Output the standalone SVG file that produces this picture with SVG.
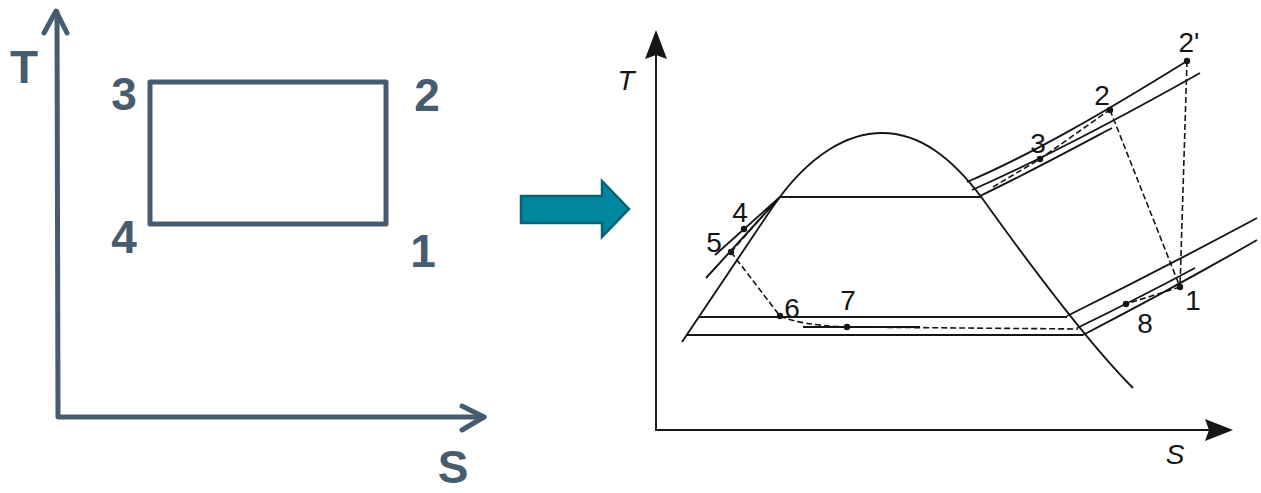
<svg xmlns="http://www.w3.org/2000/svg" width="1261" height="493" viewBox="0 0 1261 493">
<style>
.sl{fill:none;stroke:#475c6f;stroke-width:5;stroke-linecap:round;stroke-linejoin:round}
.lb{font-family:"Liberation Sans",Arial,sans-serif;font-weight:bold;font-size:46px;fill:#475c6f;text-anchor:middle}
.k{fill:none;stroke:#161616;stroke-width:1.9}
.d{fill:none;stroke:#161616;stroke-width:1.6;stroke-dasharray:6 3}
.t{font-family:"Liberation Sans",Arial,sans-serif;font-size:28px;fill:#161616;text-anchor:middle}
.dot{fill:#161616}
</style>
<rect width="1261" height="493" fill="#ffffff"/>

<g id="left-chart">
  <path class="sl" d="M57 12 L58 417 L484 417"/>
  <path class="sl" d="M44 33 L56 11 L67 33"/>
  <path class="sl" d="M462 406 L484 417 L462 430"/>
  <text class="lb" x="24" y="83">T</text>
  <text class="lb" x="453" y="483">S</text>
</g>
<g id="left-cycle">
  <rect class="sl" x="150" y="82" width="236" height="142"/>
  <text class="lb" x="124" y="110">3</text>
  <text class="lb" x="427" y="111">2</text>
  <text class="lb" x="124" y="253">4</text>
  <text class="lb" x="423" y="267">1</text>
</g>

<g id="arrow">
  <polygon points="521,196 602,196 602,181 629,209 602,237 602,223 521,223" fill="#00869e" stroke="#0a6275" stroke-width="2.5" stroke-linejoin="miter"/>
</g>

<g id="right-axes">
  <path class="k" d="M656 54 L656 430 L1210 430"/>
  <polygon points="656,30 667,59 656,55 645,59" fill="#161616"/>
  <polygon points="1233,430 1205,419 1209,430 1205,441" fill="#161616"/>
  <text class="t" x="626" y="90" font-style="italic">T</text>
  <text class="t" x="1175" y="464" font-style="italic">S</text>
</g>

<g id="dome">
  <path class="k" d="M682 342 L772 208 C810 152 850 133 882 133 C920 133 952 158 982 198 C1030 265 1090 345 1133 388"/>
</g>

<g id="isobars">
  <path class="k" d="M780 197 L982 197"/>
  <path class="k" d="M698 317 L1067 317"/>
  <path class="k" d="M687 335 L1083 335"/>
  <path class="k" d="M803 327 L920 327"/>
  <path class="k" d="M967 182 C1030 155 1100 115 1187 61"/>
  <path class="k" d="M972 190 C1040 160 1120 118 1200 73"/>
  <path class="k" d="M978 197 C1030 172 1080 145 1112 128"/>
  <path class="k" d="M1067 316 Q1160 270 1257 218"/>
  <path class="k" d="M1077 328 Q1135 300 1195 268"/>
  <path class="k" d="M1083 335 Q1170 290 1257 240"/>
  <path class="k" d="M715 255 L780 197"/>
  <path class="k" d="M706 278 L780 197"/>
</g>

<g id="connectors">
  <path class="d" d="M731 252 L774 203"/>
  <path class="d" d="M731 252 L780 316 Q800 325 847 327 L1078 329"/>
  <path class="d" d="M993 187 L1040 159 L1108 111"/>
  <path class="d" d="M1110 110 L1180 287"/>
  <path class="d" d="M1187 61 L1180 287"/>
  <path class="d" d="M1180 287 L1126 304"/>
</g>

<g id="p1"><circle class="dot" cx="1180" cy="287" r="3.2"/><text class="t" x="1193" y="310">1</text></g>
<g id="p2"><circle class="dot" cx="1110" cy="110" r="3.2"/><text class="t" x="1102" y="105">2</text></g>
<g id="p2prime"><circle class="dot" cx="1187" cy="61" r="3.2"/><text class="t" x="1189" y="52">2'</text></g>
<g id="p3"><circle class="dot" cx="1040" cy="159" r="3.2"/><text class="t" x="1038" y="153">3</text></g>
<g id="p4"><circle class="dot" cx="744" cy="229" r="3.2"/><text class="t" x="740" y="222">4</text></g>
<g id="p5"><circle class="dot" cx="731" cy="252" r="3.2"/><text class="t" x="714" y="252">5</text></g>
<g id="p6"><circle class="dot" cx="780" cy="316" r="3.2"/><text class="t" x="792" y="318">6</text></g>
<g id="p7"><circle class="dot" cx="847" cy="327" r="3.2"/><text class="t" x="848" y="310">7</text></g>
<g id="p8"><circle class="dot" cx="1126" cy="304" r="3.2"/><text class="t" x="1145" y="333">8</text></g>
</svg>
